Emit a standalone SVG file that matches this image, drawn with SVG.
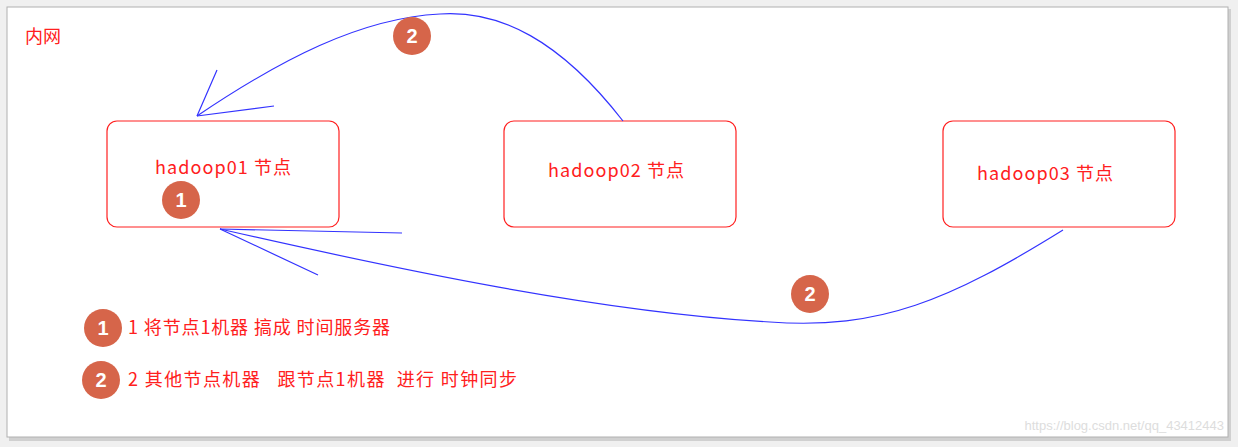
<svg xmlns="http://www.w3.org/2000/svg" width="1238" height="447" viewBox="0 0 1238 447">
<style>
.node rect{fill:#fff;stroke:#ff2020;stroke-width:1.2}
.t{font-family:"Noto Sans CJK SC","Liberation Sans",sans-serif;fill:#ff2020;font-size:18px}
.badge circle{fill:#d6654a}
.badge text{font-family:"Liberation Sans",sans-serif;font-weight:bold;fill:#fff;font-size:20px;text-anchor:middle}
.c path{fill:none;stroke:#3333ff;stroke-width:1.2}
</style>
<rect x="0" y="0" width="1238" height="447" fill="#f0f0f0"/>
<rect x="9" y="9" width="1222" height="432" fill="#d0d0d0"/>
<rect x="7" y="7" width="1221" height="430" fill="#fff" stroke="#b0b0b0"/>
<text class="t" x="25" y="43" font-size="16">内网</text>
<g id="n1" class="node"><rect x="107" y="121" width="232" height="106" rx="10"/><text class="t" x="155" y="174" textLength="136">hadoop01 节点</text></g>
<g id="n2" class="node"><rect x="504" y="121" width="232" height="106" rx="10"/><text class="t" x="548" y="177" textLength="136">hadoop02 节点</text></g>
<g id="n3" class="node"><rect x="943" y="121" width="232" height="106" rx="10"/><text class="t" x="977" y="180" textLength="136">hadoop03 节点</text></g>
<g id="connectors" class="c">
<path d="M623 121 C560 40 500 10 440 14 C360 18 280 60 197 116"/>
<path d="M197 116 L217 70 M197 116 L274 106"/>
<path d="M1063 230 C950 300 880 330 770 322 C600 312 400 270 220 229"/>
<path d="M220 229 L402 233 M220 229 L318 275"/>
</g>
<g class="badge">
<circle cx="412" cy="36" r="19"/><text x="412" y="43">2</text>
<circle cx="181" cy="200" r="19"/><text x="181" y="207">1</text>
<circle cx="810" cy="294" r="19"/><text x="810" y="301">2</text>
<circle cx="103" cy="328" r="19"/><text x="103" y="335">1</text>
<circle cx="101" cy="380" r="19"/><text x="101" y="387">2</text>
</g>
<text class="t" x="128" y="334" textLength="262">1 将节点1机器 搞成 时间服务器</text>
<text class="t" x="128" y="386" xml:space="preserve" textLength="389">2 其他节点机器   跟节点1机器  进行 时钟同步</text>
<text x="1224" y="430" text-anchor="end" font-family="Liberation Sans,sans-serif" font-size="13" fill="#dddddd">https://blog.csdn.net/qq_43412443</text>
</svg>
